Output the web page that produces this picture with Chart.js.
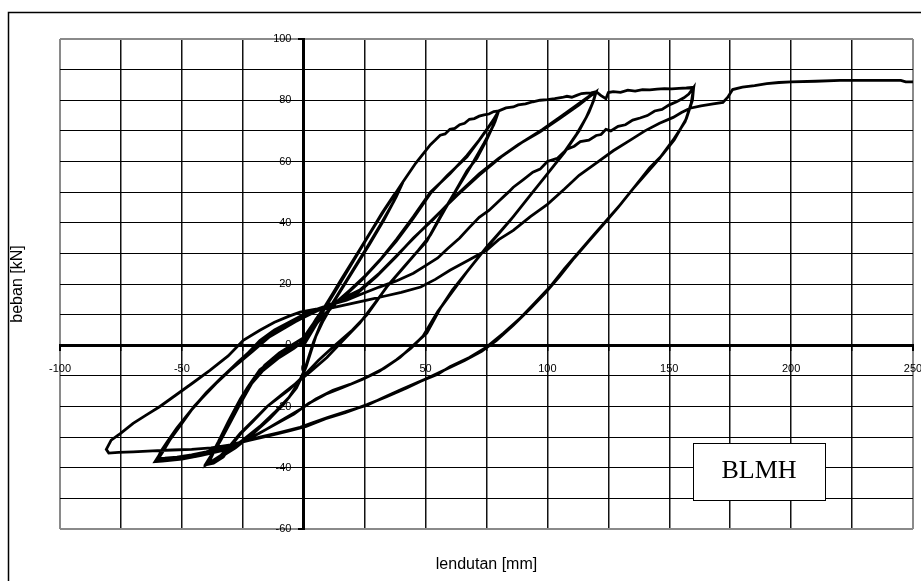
<!DOCTYPE html>
<html>
<head>
<meta charset="utf-8">
<script src="https://cdn.jsdelivr.net/npm/chart.js@4.4.1/dist/chart.umd.min.js"></script>
<style>
html,body{margin:0;padding:0;background:#fff;}
#wrap{width:921px;height:581px;position:relative;}
</style>
</head>
<body>
<div id="wrap"><canvas id="c" width="921" height="581"></canvas></div>
<script>
// ---- axis ticks ----
const xTickLabels = [-100, -50, 0, 50, 100, 150, 200, 250];
const yTickLabels = [-60, -40, -20, 0, 20, 40, 60, 80, 100];
const xTitle = 'lendutan [mm]';
const yTitle = 'beban [kN]';
const boxLabel = 'BLMH';

// ---- hysteresis branches: [lendutan mm, beban kN] ----
const virgin = [[0,0],[3,4],[6,8],[9,12.5],[14,19],[20,27],[26,35],[32,43],[37,49],[40,52]];
const unload40a = [[40,52],[38,48.5],[33,41],[27,33],[20,24],[13,15],[8,8],[5,3],[3,-2],[1,-7],[-2,-12],[-6,-17],[-12,-22],[-18,-26.5],[-25,-31],[-31,-34.5],[-36,-37],[-40,-39]];
const reload40a = [[-40,-39],[-38,-36],[-35.5,-33],[-32,-27.5],[-29,-22],[-26,-17.5],[-23,-13.7],[-18,-8],[-11,-3.9],[-5,-1],[-1.5,0.6],[2,4.5],[5,8.5],[9,13],[15,21],[22,30],[29,39],[35,46.5],[40,52]];
const unload40b = [[40,52],[37,47],[32,40],[26,32],[19,23],[12,14],[7,7],[4,1],[2,-4],[0,-9],[-3,-14],[-8,-19],[-14,-24],[-21,-29],[-28,-33.5],[-34,-36.5],[-39,-38.5]];
const reload40b = [[-39,-38.5],[-37,-35],[-34,-31],[-30,-25],[-26,-19],[-21,-12],[-16,-6.5],[-10,-2.5],[-4,0.5],[0,2.5],[3,6],[7,10.5],[12,17],[19,26],[26,35],[33,44],[38,50],[40,52.5]];
const env40to80 = [[40,52.5],[43,56],[46,59.5],[49,62.5],[52,65.5],[54,67],[56,68.6],[58,69],[60,70.5],[62,70.8],[64,72],[66,72.5],[68,73.8],[70,74],[72,74.8],[74,75.2],[76,75.5],[78,76.3],[80,76.5]];
const unload80a = [[80,76.5],[78.5,73],[75,67],[71,61],[67,57],[62,50],[56,42],[50.5,34],[46,30],[40,24.5],[34,19],[30,14.5],[26,10],[20,5],[12,-0.6],[6,-5],[0,-10],[-6,-14.5],[-15,-20],[-21,-25],[-26,-29],[-30,-33],[-33,-36.5],[-37,-38.5],[-40,-39]];
const reload80a = [[-40,-39],[-38,-36.5],[-35.5,-33],[-32,-27.5],[-29,-22],[-25,-16.5],[-20,-10.5],[-14,-5.5],[-7,-1.5],[-1.5,0.6],[3,5],[8,9.5],[13,13.5],[18,17],[24,21.5],[31,27.5],[38,34],[45,41.5],[52,49.6],[59,55.5],[67,61.5],[73,68],[77,72.5],[80,76.5]];
const unload80b = [[80,76.5],[78,72],[74,66],[69,59],[64,52.5],[58,44.5],[52,36],[47,31],[41,25.5],[35,20],[29,13.5],[23,7.2],[16,1.5],[9.5,-4],[3,-8.5],[-1.5,-11.4],[-8,-15.5],[-15,-20],[-20,-24],[-26,-28.7],[-30,-32.5],[-34,-36],[-38,-38],[-40,-38.5]];
const reload80b = [[-40,-38.5],[-38,-36],[-35,-31.5],[-31,-25],[-27,-19],[-23,-14],[-17,-8.5],[-10,-4],[-4,-1],[0,1.5],[4,6],[9,10.5],[14,14.5],[19,18],[25,22.5],[32,28.5],[38,34.5],[45,42],[52,50],[60,56],[67,62],[72,67],[76,71.5],[79,75],[80,76.5]];
const env80to120 = [[80,76.5],[83,77.5],[86,77.8],[88,78.5],[91,78.8],[94,79.5],[97,80],[100,80.2],[103,80.5],[106,80.9],[108,81.3],[110,81],[112,81.6],[114,82.2],[116,82.3],[118,82.4],[120,82.8]];
const unload120a = [[120,82.8],[119,80],[117,76],[113,70],[107,63],[100,56],[93,49],[86,42],[80,36.5],[75,32],[68,25],[61,18],[56,12],[50.5,4],[45,0],[39.5,-4],[33,-7.5],[26,-10.4],[19,-12.8],[12,-14.7],[5,-17.5],[-1.5,-21],[-8,-24],[-18,-28.7],[-25,-31.5],[-31,-33.5],[-38,-35],[-44,-36.3],[-50,-37],[-55,-37.3],[-60,-37.5]];
const reload120a = [[-60,-37.5],[-58,-35],[-55,-31],[-50,-25.5],[-45,-20],[-38,-14],[-31.6,-9],[-27,-5.5],[-23,-2.6],[-15,2.6],[-8,5.8],[-1.5,8.5],[5,11],[12,13.5],[22,17],[30,22.5],[38,29],[45,35],[53,41],[62,48.5],[72,56],[80,61],[88,65.5],[97,69.7],[105,74],[113,78.5],[117,81],[120,82.8]];
const unload120b = [[120,82.8],[118.5,79],[116,74.5],[112,69],[106,62],[99,55],[92,48],[85,41],[79,35.5],[73,30],[67,24],[61,17.5],[55,11],[49,3],[44,-1],[38,-4.8],[31,-8.5],[24,-11.2],[16,-13.8],[9,-16],[2,-19],[-4,-22.5],[-12,-26],[-20,-29.5],[-27,-32.5],[-34,-34.5],[-42,-36],[-50,-37.2],[-58,-37.8],[-61,-38]];
const reload120b = [[-61,-38],[-59,-35.5],[-56,-31.5],[-51,-26],[-46,-21],[-40,-15.5],[-33,-10],[-27,-6],[-21,-2],[-14,2.8],[-7,6],[-1,8.8],[6,11.5],[14,14.5],[23,18],[31,23.5],[39,30],[47,36.5],[54,42],[63,49],[72,55.5],[81,61.5],[90,66.5],[98,70.5],[106,75],[113,79],[118,81.8],[120,82.8]];
const env120to160 = [[120,82.8],[122,81.5],[124,80.5],[125,82.5],[127,82.8],[130,82.6],[133,83.3],[136,83],[139,83.5],[142,83.4],[145,83.6],[148,83.8],[151,83.7],[154,83.9],[157,84],[160,84.2]];
const unload160a = [[160,84.2],[159.5,80],[157,74],[152,67],[147,62],[142,58],[136,52],[130,46],[124.5,41],[119,36],[113.5,31],[107,25],[101,19],[95,14],[89,9],[82,4],[75,-0.6],[68,-4],[60,-7],[55,-9.5],[49,-11.4],[40,-14.5],[33,-17],[26,-19.6],[18,-21.5],[10,-23.5],[3,-25.5],[-1.5,-26.8],[-10,-28.5],[-18,-30],[-25,-31.5],[-32,-33],[-40,-34.8],[-46,-35.8],[-52,-36.5],[-57,-36.9],[-60,-37]];
const reload160 = [[-60,-37],[-58.5,-34.5],[-56,-31.5],[-52,-27],[-47,-22],[-42,-17.5],[-36,-12.5],[-30,-8],[-24,-3.5],[-18,1.5],[-12,5],[-6,7.5],[0,10],[4,11.4],[10,13],[17.6,14.7],[24,16.8],[31,19],[38,21],[45,23.5],[50,26],[55,28.5],[59,31.5],[64,35],[68,38.5],[72,41.8],[76,44],[80,47],[84,50],[86,51.6],[90,54],[94,56.5],[97,57.5],[100,60],[104,61],[108,64],[111,65],[113.5,66.5],[117,67],[120,68.5],[122,68.8],[124,70.5],[126,70],[129,71.5],[132,72],[135,73.5],[138,74.2],[141,75],[144,76.5],[147,77],[150,78.5],[153,79.5],[156,80.8],[158,82],[160,84.2]];
const unload160b = [[160,84.2],[159,79],[156.5,73],[152,67.5],[146,61],[141,56.5],[135,51],[129,45],[123,39.5],[117,34],[111,28.5],[105,22.5],[99,17],[93,12],[86,6.5],[79,1.5],[73,-2],[66,-5],[58,-8],[50,-11],[42,-14],[34,-16.8],[26,-19.4],[17,-22],[9,-24],[1,-26.5],[-6,-28],[-14,-29.5],[-22,-31],[-30,-32.5],[-38,-33.5],[-46,-34],[-54,-34.2],[-62,-34.5],[-70,-34.8],[-76,-35],[-80,-35.2]];
const finalLoad = [[-80,-35.2],[-81,-34],[-79,-31],[-75,-28.7],[-70,-25.5],[-65,-23],[-59,-20],[-52,-16],[-45,-12],[-38.5,-8.2],[-31,-3.5],[-24.8,1.6],[-18,4.9],[-12,7.5],[-6,9.5],[-1.5,10.8],[5,11.8],[12,12.3],[19,13.5],[26,14.7],[33,16],[40,17.3],[48,19],[54,21.5],[60,24.5],[67,27.5],[75,31],[80,34.5],[86,37.5],[93,42],[100,46],[107,51],[113,55.5],[120,59.5],[127,63.5],[134,67],[140,70],[146,72.5],[151.6,74.4],[155,76],[158.5,77.4],[163,78.2],[168,78.8],[172,79.3],[174,81],[176,83.5],[180,84.3],[185,84.8],[190,85.4],[195,85.8],[200,86],[210,86.2],[220,86.5],[230,86.5],[240,86.5],[245,86.5],[247,86],[250,86]];

const branches = [virgin, unload40a, reload40a, unload40b, reload40b, env40to80,
  unload80a, reload80a, unload80b, reload80b, env80to120,
  unload120a, reload120a, unload120b, reload120b, env120to160,
  unload160a, reload160, unload160b, finalLoad];

const points = [];
branches.forEach(b => b.forEach(p => points.push({x: p[0], y: p[1]})));

const xMin = xTickLabels[0], xMax = xTickLabels[xTickLabels.length - 1];
const yMin = yTickLabels[0], yMax = yTickLabels[yTickLabels.length - 1];

const decor = {
  id: 'decor',
  beforeDraw(chart) {
    const c = chart.ctx;
    c.save();
    c.fillStyle = '#fff';
    c.fillRect(0, 0, chart.width, chart.height);
    c.restore();
  },
  afterDraw(chart) {
    const c = chart.ctx;
    const a = chart.chartArea;
    c.save();
    // outer frame
    c.strokeStyle = '#000';
    c.lineWidth = 1.5;
    c.strokeRect(8.5, 12.5, 930, 600);
    // axis titles
    c.fillStyle = '#000';
    c.font = '16px "Liberation Sans", Arial, sans-serif';
    c.textAlign = 'center';
    c.textBaseline = 'middle';
    c.fillText(xTitle, (a.left + a.right) / 2, 565);
    c.translate(18, (a.top + a.bottom) / 2);
    c.rotate(-Math.PI / 2);
    c.fillText(yTitle, 0, 0);
    c.restore();
    // label box
    c.save();
    const bx = 693, by = 443, bw = 132, bh = 57;
    c.fillStyle = '#fff';
    c.fillRect(bx, by, bw, bh);
    c.strokeStyle = '#000';
    c.lineWidth = 1;
    c.strokeRect(bx + 0.5, by + 0.5, bw, bh);
    c.fillStyle = '#000';
    c.font = '26px "Liberation Serif", "Times New Roman", serif';
    c.textAlign = 'center';
    c.textBaseline = 'middle';
    c.fillText(boxLabel, bx + bw / 2, by + bh / 2);
    c.restore();
  }
};

const zeroPad = s => { s.paddingLeft = 0; s.paddingRight = 0; s.paddingTop = 0; s.paddingBottom = 0; };
const edgeColor = '#8a8a8a';
new Chart(document.getElementById('c'), {
  type: 'scatter',
  data: {
    datasets: [{
      data: points,
      showLine: true,
      borderColor: '#000',
      borderWidth: 2.8,
      pointRadius: 0,
      tension: 0,
      fill: false
    }]
  },
  options: {
    responsive: false,
    animation: false,
    events: [],
    layout: { padding: { left: 60, right: 8, top: 39, bottom: 52 } },
    plugins: { legend: { display: false }, tooltip: { enabled: false } },
    scales: {
      x: {
        type: 'linear',
        position: { y: 0 },
        min: xMin, max: xMax,
        afterFit: zeroPad,
        ticks: {
          stepSize: 25,
          autoSkip: false,
          maxRotation: 0,
          padding: 13,
          color: '#000',
          font: { family: '"Liberation Sans", Arial, sans-serif', size: 11 },
          callback: v => (xTickLabels.includes(v) ? String(v) : '')
        },
        grid: {
          color: ctx => (ctx.tick && (ctx.tick.value === xMin || ctx.tick.value === xMax)) ? edgeColor : '#111',
          lineWidth: ctx => (ctx.tick && (ctx.tick.value === xMin || ctx.tick.value === xMax)) ? 2 : 1.5,
          drawTicks: true,
          tickLength: 4,
          tickColor: '#000'
        },
        border: { display: true, color: '#000', width: 3 }
      },
      y: {
        type: 'linear',
        position: { x: 0 },
        min: yMin, max: yMax,
        afterFit: zeroPad,
        ticks: {
          stepSize: 10,
          autoSkip: false,
          color: '#000',
          font: { family: '"Liberation Sans", Arial, sans-serif', size: 11 },
          callback: v => (yTickLabels.includes(v) ? String(v) + '    ' : '')
        },
        grid: {
          color: ctx => (ctx.tick && (ctx.tick.value === yMin || ctx.tick.value === yMax)) ? edgeColor : '#000',
          lineWidth: ctx => (ctx.tick && (ctx.tick.value === yMin || ctx.tick.value === yMax)) ? 2 : 1,
          drawTicks: true,
          tickLength: 4,
          tickColor: '#000'
        },
        border: { display: true, color: '#000', width: 3 }
      }
    }
  },
  plugins: [decor]
});
</script>
</body>
</html>
